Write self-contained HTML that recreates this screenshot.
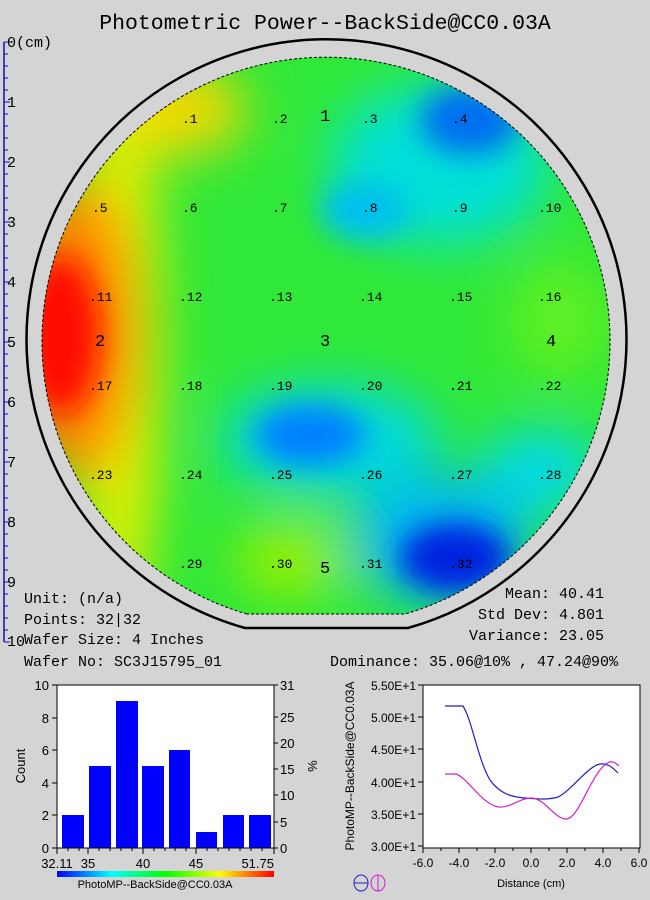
<!DOCTYPE html>
<html><head><meta charset="utf-8"><style>
body{margin:0;background:#d4d4d4;}
svg{display:block;}
.m{font-family:"Liberation Mono",monospace;}
.s{font-family:"Liberation Sans",sans-serif;}
</style></head><body>
<svg width="650" height="900" viewBox="0 0 650 900" xmlns="http://www.w3.org/2000/svg">
<rect width="650" height="900" fill="#d4d4d4"/>
<text x="325" y="29" text-anchor="middle" class="m" font-size="21.5" fill="#000">Photometric Power--BackSide@CC0.03A</text>
<g stroke="#1010c0" stroke-width="1.5"><line x1="4" y1="42" x2="4" y2="642"/></g>
<g stroke="#1010c0" stroke-width="1">
<path d="M4 42h6M4 54h4M4 66h4M4 78h4M4 90h4M4 102h6M4 114h4M4 126h4M4 138h4M4 150h4M4 162h6M4 174h4M4 186h4M4 198h4M4 210h4M4 222h6M4 234h4M4 246h4M4 258h4M4 270h4M4 282h6M4 294h4M4 306h4M4 318h4M4 330h4M4 342h6M4 354h4M4 366h4M4 378h4M4 390h4M4 402h6M4 414h4M4 426h4M4 438h4M4 450h4M4 462h6M4 474h4M4 486h4M4 498h4M4 510h4M4 522h6M4 534h4M4 546h4M4 558h4M4 570h4M4 582h6M4 594h4M4 606h4M4 618h4M4 630h4M4 642h6"/>
</g>
<g class="m" font-size="15" fill="#000">
<text x="7" y="47">0(cm)</text><text x="7" y="107">1</text><text x="7" y="167">2</text><text x="7" y="227">3</text><text x="7" y="287">4</text><text x="7" y="347">5</text><text x="7" y="407">6</text><text x="7" y="467">7</text><text x="7" y="527">8</text><text x="7" y="587">9</text><text x="7" y="646">10</text>
</g>
<defs>
<clipPath id="wc"><path d="M247 614 A284 284 0 1 1 405 614 Z"/></clipPath>
<filter id="bl" x="-50%" y="-50%" width="200%" height="200%"><feGaussianBlur stdDeviation="26"/></filter>
<filter id="bl2" x="-50%" y="-50%" width="200%" height="200%"><feGaussianBlur stdDeviation="14"/></filter>
<linearGradient id="cb" x1="0" x2="1"><stop offset="0" stop-color="#0000ff"/><stop offset=".25" stop-color="#00ffff"/><stop offset=".5" stop-color="#00ff00"/><stop offset=".75" stop-color="#ffff00"/><stop offset="1" stop-color="#ff0000"/></linearGradient>
</defs>
<path d="M245 628 A300 300 0 1 1 408 628 Z" fill="none" stroke="#000" stroke-width="2.5"/>
<g clip-path="url(#wc)">
<rect x="30" y="40" width="600" height="600" fill="#30e838"/>
<g filter="url(#bl)">
<ellipse cx="120" cy="340" rx="40" ry="300" fill="#e8f000"/>
<ellipse cx="185" cy="110" rx="60" ry="45" fill="#f8d800"/>
<ellipse cx="75" cy="330" rx="60" ry="150" fill="#ff8000"/>
<ellipse cx="290" cy="560" rx="55" ry="35" fill="#a0f000"/>
<ellipse cx="440" cy="165" rx="110" ry="80" fill="#00e0d8"/>
<ellipse cx="560" cy="320" rx="50" ry="60" fill="#60f020"/>
<ellipse cx="330" cy="440" rx="110" ry="55" fill="#00d8e0"/>
<ellipse cx="540" cy="470" rx="60" ry="40" fill="#00d8f0"/>
<ellipse cx="440" cy="540" rx="90" ry="65" fill="#00b8f0"/>
</g>
<g filter="url(#bl2)">
<ellipse cx="60" cy="335" rx="40" ry="80" fill="#ff1000"/>
<ellipse cx="470" cy="120" rx="50" ry="35" fill="#0070f0"/>
<ellipse cx="365" cy="210" rx="45" ry="30" fill="#00c0f0"/>
<ellipse cx="310" cy="435" rx="55" ry="30" fill="#0080ff"/>
<ellipse cx="455" cy="558" rx="55" ry="35" fill="#0020e0"/>
</g>
</g>
<path d="M247 614 A284 284 0 1 1 405 614 Z" fill="none" stroke="#000" stroke-width="1" stroke-dasharray="3,2"/>
<g class="m" font-size="13" fill="#000">
<text x="182" y="123">.1</text><text x="272" y="123">.2</text><text x="362" y="123">.3</text><text x="452" y="123">.4</text>
<text x="92" y="212">.5</text><text x="182" y="212">.6</text><text x="272" y="212">.7</text><text x="362" y="212">.8</text><text x="452" y="212">.9</text><text x="538" y="212">.10</text>
<text x="89" y="301">.11</text><text x="179" y="301">.12</text><text x="269" y="301">.13</text><text x="359" y="301">.14</text><text x="449" y="301">.15</text><text x="538" y="301">.16</text>
<text x="89" y="390">.17</text><text x="179" y="390">.18</text><text x="269" y="390">.19</text><text x="359" y="390">.20</text><text x="449" y="390">.21</text><text x="538" y="390">.22</text>
<text x="89" y="479">.23</text><text x="179" y="479">.24</text><text x="269" y="479">.25</text><text x="359" y="479">.26</text><text x="449" y="479">.27</text><text x="538" y="479">.28</text>
<text x="179" y="568">.29</text><text x="269" y="568">.30</text><text x="359" y="568">.31</text><text x="449" y="568">.32</text>
</g>
<g class="m" font-size="17" fill="#000">
<text x="320" y="121">1</text><text x="95" y="346">2</text><text x="320" y="346">3</text><text x="546" y="346">4</text><text x="320" y="573">5</text>
</g>
<g class="m" font-size="15" fill="#000">
<text x="24" y="603">Unit: (n/a)</text>
<text x="24" y="624">Points: 32|32</text>
<text x="24" y="644">Wafer Size: 4 Inches</text>
<text x="24" y="666">Wafer No: SC3J15795_01</text>
<text x="330" y="666">Dominance: 35.06@10% , 47.24@90%</text>
<text x="604" y="598" text-anchor="end">Mean: 40.41</text>
<text x="604" y="619" text-anchor="end">Std Dev: 4.801</text>
<text x="604" y="640" text-anchor="end">Variance: 23.05</text>
</g>
<rect x="57" y="685" width="217" height="163" fill="#fff"/>
<g fill="#0000ff">
<rect x="62" y="815" width="22" height="33"/><rect x="89" y="766" width="22" height="82"/><rect x="116" y="701" width="22" height="147"/><rect x="142" y="766" width="22" height="82"/><rect x="169" y="750" width="21" height="98"/><rect x="196" y="832" width="21" height="16"/><rect x="223" y="815" width="21" height="33"/><rect x="249" y="815" width="22" height="33"/>
</g>
<rect x="57" y="685" width="217" height="163" fill="none" stroke="#000"/>
<g stroke="#000" stroke-width="1">
<path d="M52 685h5M52 718h5M52 750h5M52 783h5M52 815h5M52 848h5"/>
<path d="M274 848h4M274 822h4M274 795h4M274 769h4M274 743h4M274 717h4M274 685h4"/>
<path d="M57 848v6M88 848v6M143 848v6M196 848v6M274 848v6M68 848v3M79 848v3M99 848v3M110 848v3M121 848v3M132 848v3M154 848v3M165 848v3M175 848v3M186 848v3M207 848v3M218 848v3M229 848v3M240 848v3M251 848v3M262 848v3"/>
</g>
<g class="s" font-size="13" fill="#000">
<text x="49" y="690" text-anchor="end">10</text><text x="49" y="723" text-anchor="end">8</text><text x="49" y="755" text-anchor="end">6</text><text x="49" y="788" text-anchor="end">4</text><text x="49" y="820" text-anchor="end">2</text><text x="49" y="853" text-anchor="end">0</text>
<text x="280" y="690">31</text><text x="280" y="722">25</text><text x="280" y="748">20</text><text x="280" y="774">15</text><text x="280" y="800">10</text><text x="280" y="827">5</text><text x="280" y="853">0</text>
<text x="57" y="868" text-anchor="middle">32.11</text><text x="88" y="868" text-anchor="middle">35</text><text x="143" y="868" text-anchor="middle">40</text><text x="196" y="868" text-anchor="middle">45</text><text x="274" y="868" text-anchor="end">51.75</text>
<text x="25" y="766" text-anchor="middle" transform="rotate(-90 25 766)">Count</text>
<text x="308" y="766" text-anchor="middle" transform="rotate(90 308 766)">%</text>
</g>
<rect x="57" y="871" width="217" height="6" fill="url(#cb)"/>
<text x="155" y="888" text-anchor="middle" class="s" font-size="11" fill="#000">PhotoMP--BackSide@CC0.03A</text>
<rect x="423" y="685" width="217" height="163" fill="#fff" stroke="#000"/>
<g stroke="#000">
<path d="M418 685h5M418 717h5M418 749h5M418 782h5M418 814h5M418 846h5"/>
<path d="M423 848v5M459 848v5M495 848v5M531 848v5M567 848v5M603 848v5M639 848v5M441 848v3M477 848v3M513 848v3M549 848v3M585 848v3M621 848v3"/>
</g>
<g class="s" font-size="12" fill="#000">
<text x="416" y="690" text-anchor="end">5.50E+1</text><text x="416" y="722" text-anchor="end">5.00E+1</text><text x="416" y="754" text-anchor="end">4.50E+1</text><text x="416" y="787" text-anchor="end">4.00E+1</text><text x="416" y="819" text-anchor="end">3.50E+1</text><text x="416" y="851" text-anchor="end">3.00E+1</text>
<text x="423" y="867" text-anchor="middle">-6.0</text><text x="459" y="867" text-anchor="middle">-4.0</text><text x="495" y="867" text-anchor="middle">-2.0</text><text x="531" y="867" text-anchor="middle">0.0</text><text x="567" y="867" text-anchor="middle">2.0</text><text x="603" y="867" text-anchor="middle">4.0</text><text x="639" y="867" text-anchor="middle">6.0</text>
<text x="531" y="887" text-anchor="middle" font-size="11">Distance (cm)</text>
<text x="354" y="766" text-anchor="middle" font-size="12" transform="rotate(-90 354 766)">PhotoMP--BackSide@CC0.03A</text>
</g>
<path d="M445 706 L463 706 C472 720 478 760 490 780 C500 794 512 797 525 798 C538 799 548 800 558 797 C572 790 588 766 600 764 C608 763 613 768 618 773" fill="none" stroke="#2020c0" stroke-width="1.2"/>
<path d="M445 774 L456 774 C468 778 482 805 499 807 C510 808 520 798 531 798 C545 798 555 820 567 819 C580 817 592 770 609 762 C613 761 616 763 619 766" fill="none" stroke="#d020d0" stroke-width="1.2"/>
<ellipse cx="361" cy="883" rx="7" ry="8" fill="none" stroke="#2020c0"/><line x1="354" y1="883" x2="368" y2="883" stroke="#2020c0"/>
<ellipse cx="378" cy="883" rx="7" ry="8" fill="none" stroke="#d020d0"/><line x1="378" y1="875" x2="378" y2="891" stroke="#d020d0"/>
</svg>
</body></html>
